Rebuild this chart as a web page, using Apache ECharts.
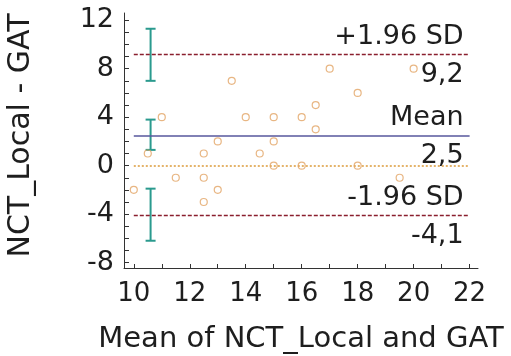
<!DOCTYPE html>
<html>
<head>
<meta charset="utf-8">
<script src="https://cdn.jsdelivr.net/npm/echarts@6/dist/echarts.min.js"></script>
<style>
html,body{margin:0;padding:0;background:#fff;}
#chart{width:511px;height:356px;}
</style>
</head>
<body>
<div id="chart"></div>
<script>
// Data
const meanValues = [10, 10.5, 11, 11.5, 12.5, 12.5, 12.5, 13, 13, 13.5, 14, 14.5, 15, 15, 15, 16, 16, 16.5, 16.5, 17, 18, 18, 19.5, 20];
const diffValues = [-2, 1, 4, -1, 1, -1, -3, 2, -2, 7, 4, 1, 4, 2, 0, 4, 0, 5, 3, 8, 6, 0, -1, 8];

const limitNames = ['+1.96 SD', 'Mean', '-1.96 SD'];
const limitValues = [9.2, 2.5, -4.1];
const limitLabels = ['9,2', '2,5', '-4,1'];
const ciLow = [7.0, 1.3, -6.2];
const ciHigh = [11.3, 3.8, -1.9];
const ciX = 10.6;
const lineStart = 10;
const lineEnd = 22;

const xTicks = [10, 11, 12, 13, 14, 15, 16, 17, 18, 19, 20, 21, 22];
const xLabels = [10, 12, 14, 16, 18, 20, 22];
const yTicks = [-8, -7, -6, -5, -4, -3, -2, -1, 0, 1, 2, 3, 4, 5, 6, 7, 8, 9, 10, 11, 12];
const yLabels = [-8, -4, 0, 4, 8, 12];

const FONT = 'DejaVu Sans';
const TXT = '#1e1e1e';
const limitColors = ['#8a1f2e', '#57579c', '#8a1f2e'];
const limitTypes = [[4, 2], 'solid', [4, 2]];
const limitWidths = [1.3, 1.6, 1.3];

const markData = [];
limitValues.forEach((v, i) => {
  markData.push([
    { coord: [lineStart, v],
      lineStyle: { color: limitColors[i], type: limitTypes[i], width: limitWidths[i] },
      label: { show: true, position: 'insideEndTop', formatter: limitNames[i], distance: [6, 4] } },
    { coord: [lineEnd, v] }
  ]);
  markData.push([
    { coord: [lineStart, v],
      lineStyle: { color: 'rgba(0,0,0,0)', width: 0 },
      label: { show: true, position: 'insideEndBottom', formatter: limitLabels[i], distance: [6, 7] } },
    { coord: [lineEnd, v] }
  ]);
});
// zero line
markData.push([
  { coord: [lineStart, 0], lineStyle: { color: '#dc9a3a', type: [2, 2], width: 1.5, opacity: 1 }, label: { show: false } },
  { coord: [lineEnd, 0] }
]);

const ciData = limitValues.map((v, i) => [ciX, ciLow[i], ciHigh[i]]);

const chart = echarts.init(document.getElementById('chart'), null, { renderer: 'canvas' });
chart.setOption({
  animation: false,
  backgroundColor: '#fff',
  textStyle: { fontFamily: FONT, color: TXT },
  grid: { left: 124, right: 33, top: 13, bottom: 88, containLabel: false, outerBoundsMode: 'none' },
  xAxis: {
    type: 'value', min: 9.65, max: 22.3,
    name: 'Mean of NCT_Local and GAT', nameLocation: 'middle', nameGap: 57,
    nameTextStyle: { fontFamily: FONT, fontSize: 29, color: TXT },
    axisLine: { show: true, onZero: false, lineStyle: { color: '#333', width: 1 } },
    axisTick: { show: true, inside: true, length: 4, customValues: xTicks, lineStyle: { color: '#333' } },
    axisLabel: { customValues: xLabels, fontFamily: FONT, fontSize: 26, color: TXT, margin: 13 },
    splitLine: { show: false }
  },
  yAxis: {
    type: 'value', min: -8.45, max: 12.6,
    name: 'NCT_Local - GAT', nameLocation: 'middle', nameGap: 88,
    nameTextStyle: { fontFamily: FONT, fontSize: 30, color: TXT, padding: [0, 0, 0, 10] },
    axisLine: { show: true, onZero: false, lineStyle: { color: '#333', width: 1 } },
    axisTick: { show: true, inside: true, length: 5, customValues: yTicks, lineStyle: { color: '#333' } },
    axisLabel: { customValues: yLabels, fontFamily: FONT, fontSize: 27, color: TXT, margin: 10 },
    splitLine: { show: false }
  },
  series: [
    {
      type: 'scatter',
      data: meanValues.map((m, i) => [m, diffValues[i]]),
      symbol: 'circle', symbolSize: 7,
      itemStyle: { color: 'rgba(255,255,255,0)', borderColor: '#e2a464', borderWidth: 1.2 },
      z: 5,
      markLine: {
        silent: true, symbol: ['none', 'none'], animation: false,
        label: { fontFamily: FONT, fontSize: 27, color: TXT },
        data: markData
      }
    },
    {
      type: 'custom',
      data: ciData,
      z: 4,
      renderItem: function (params, api) {
        const x = api.value(0);
        const lo = api.coord([x, api.value(1)]);
        const hi = api.coord([x, api.value(2)]);
        const hw = 5;
        const st = { stroke: '#2a9a8e', lineWidth: 2 };
        return {
          type: 'group',
          children: [
            { type: 'line', shape: { x1: lo[0], y1: lo[1], x2: hi[0], y2: hi[1] }, style: st },
            { type: 'line', shape: { x1: lo[0] - hw, y1: lo[1], x2: lo[0] + hw, y2: lo[1] }, style: st },
            { type: 'line', shape: { x1: hi[0] - hw, y1: hi[1], x2: hi[0] + hw, y2: hi[1] }, style: st }
          ]
        };
      }
    }
  ]
});
</script>
</body>
</html>
